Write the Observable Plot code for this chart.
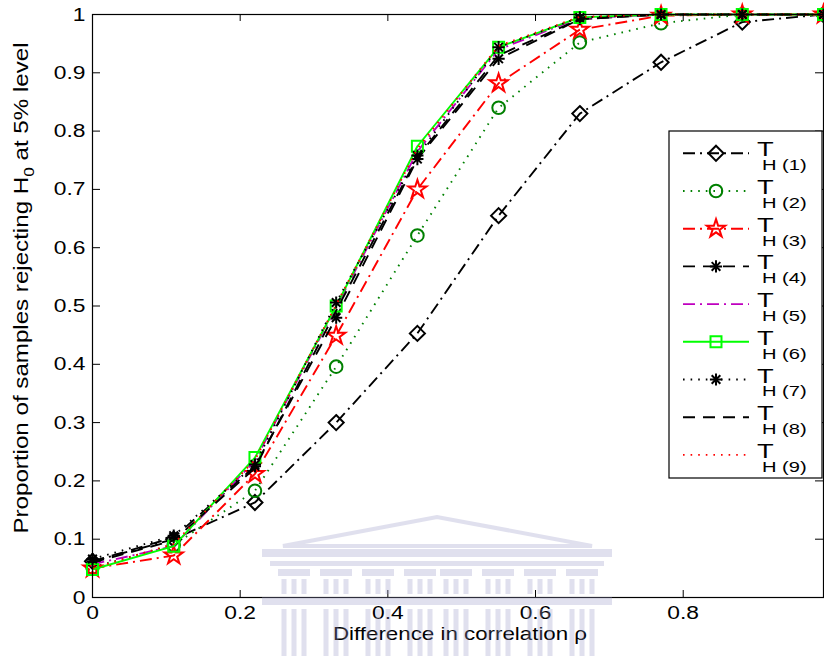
<!DOCTYPE html>
<html>
<head>
<meta charset="utf-8">
<script src="https://cdn.jsdelivr.net/npm/d3@7"></script>
<script src="https://cdn.jsdelivr.net/npm/@observablehq/plot@0.6"></script>
<style>
  body { margin: 0; background: #fff; overflow: hidden; }
  #chart { width: 824px; height: 656px; }
</style>
</head>
<body>
<div id="chart"></div>
<script>
// Difference in correlation (x values shared by every test)
const rho = [0, 0.11, 0.22, 0.33, 0.44, 0.55, 0.66, 0.77, 0.88, 0.99];

// Proportion of samples rejecting H0 at the 5% level, one array per test statistic
const T1 = [0.062, 0.100, 0.163, 0.300, 0.453, 0.655, 0.830, 0.918, 0.987, 1.000];
const T2 = [0.052, 0.090, 0.183, 0.396, 0.621, 0.840, 0.952, 0.985, 1.000, 1.000];
const T3 = [0.050, 0.072, 0.212, 0.449, 0.700, 0.882, 0.974, 0.998, 1.000, 1.000];
const T4 = [0.062, 0.103, 0.225, 0.480, 0.752, 0.924, 0.992, 1.000, 1.000, 1.000];
const T5 = [0.057, 0.088, 0.235, 0.498, 0.765, 0.940, 0.994, 1.000, 1.000, 1.000];
const T6 = [0.048, 0.088, 0.240, 0.500, 0.774, 0.944, 0.995, 1.000, 1.000, 1.000];
const T7 = [0.066, 0.106, 0.228, 0.506, 0.758, 0.944, 0.995, 1.000, 1.000, 1.000];
const T8 = [0.060, 0.098, 0.222, 0.492, 0.755, 0.930, 0.992, 1.000, 1.000, 1.000];
const T9 = [0.050, 0.092, 0.236, 0.502, 0.770, 0.946, 0.996, 1.000, 1.000, 1.000];

const seriesValues = [T1, T2, T3, T4, T5, T6, T7, T8, T9];
const seriesLabels = ["H (1)", "H (2)", "H (3)", "H (4)", "H (5)", "H (6)", "H (7)", "H (8)", "H (9)"];

const xTicks = [0, 0.2, 0.4, 0.6, 0.8];
const yTicks = [0, 0.1, 0.2, 0.3, 0.4, 0.5, 0.6, 0.7, 0.8, 0.9, 1];

// Line and marker styling per series (MATLAB-like line specs)
const DASHDOT = "12,5,2,5", DOTTED = "1.6,6", DASHED = "12,8";
const styles = [
  {color: "#000000", dash: DASHDOT, marker: "diamond"},
  {color: "#008000", dash: DOTTED,  marker: "circle"},
  {color: "#ff0000", dash: DASHDOT, marker: "star"},
  {color: "#000000", dash: DASHED,  marker: "asterisk"},
  {color: "#bf00bf", dash: DASHDOT, marker: null},
  {color: "#00ff00", dash: null,    marker: "square"},
  {color: "#000000", dash: DOTTED,  marker: "asterisk"},
  {color: "#000000", dash: DASHED,  marker: null},
  {color: "#ff0000", dash: DOTTED,  marker: null}
];

// Marker geometry: Plot symbol name and radius (area-equivalent)
const markerSpec = {
  diamond:  [{symbol: "diamond2", r: 6.8}],
  circle:   [{symbol: "circle", r: 6.3}],
  star:     [{symbol: "star", r: 5.7}],
  square:   [{symbol: "square", r: 6.2}],
  asterisk: [{symbol: "plus", r: 4.0}, {symbol: "times", r: 4.0}]
};

const table = seriesValues.map((vals, s) => rho.map((x, i) => ({series: s, rho: x, p: vals[i]})));

const W = 824, H = 656;
const mL = 92, mR = 1, mT = 14, mB = 59;
const innerW = W - mL - mR, innerH = H - mT - mB;

const marks = [];
table.forEach((rows, s) => {
  const st = styles[s];
  marks.push(Plot.line(rows, {
    x: "rho", y: "p", stroke: st.color, strokeWidth: 1.9,
    strokeDasharray: st.dash || undefined, strokeLinejoin: "miter", strokeLinecap: "butt"
  }));
  if (st.marker) {
    for (const m of markerSpec[st.marker]) {
      marks.push(Plot.dot(rows, {
        x: "rho", y: "p", symbol: m.symbol, r: m.r,
        fill: "none", stroke: st.color, strokeWidth: 2
      }));
    }
  }
});

const font = "'Liberation Sans', Arial, sans-serif";

const chart = Plot.plot({
  width: W, height: H,
  marginLeft: mL, marginRight: mR, marginTop: mT, marginBottom: mB,
  x: {domain: [0, 0.99]},
  y: {domain: [0, 1]},
  style: {fontFamily: font, fontSize: "19px", color: "#000", background: "#fff"},
  marks: [
    Plot.axisX({ticks: xTicks, tickSize: 0, tickPadding: 8, label: null, fontSize: 19,
      tickFormat: d => String(d)}),
    Plot.axisY({ticks: yTicks, tickSize: 0, tickPadding: 7, label: null, fontSize: 19,
      tickFormat: d => String(d)}),
    ...marks,
    // inward ticks on all four sides
    Plot.tickX(xTicks, {x: d => d, insetTop: innerH - 7, stroke: "#000", strokeWidth: 1}),
    Plot.tickX(xTicks, {x: d => d, insetBottom: innerH - 7, stroke: "#000", strokeWidth: 1}),
    Plot.tickY(yTicks, {y: d => d, insetRight: innerW - 8, stroke: "#000", strokeWidth: 1}),
    Plot.tickY(yTicks, {y: d => d, insetLeft: innerW - 8, stroke: "#000", strokeWidth: 1}),
    Plot.frame({stroke: "#000", strokeWidth: 1.2})
  ]
});

document.getElementById("chart").appendChild(chart);

const svg = d3.select(chart);

// The figure's lettering is set wide: stretch tick labels horizontally about their anchor
const TICK_STRETCH = 1.2;
svg.selectAll('g[aria-label="x-axis tick label"] text, g[aria-label="y-axis tick label"] text')
  .each(function() {
    const t = d3.select(this);
    const tr = t.attr("transform");
    if (tr) {
      t.attr("transform", `${tr} scale(${TICK_STRETCH},1)`);
    } else {
      const x = +t.attr("x") || 0;
      t.attr("transform", `translate(${x},0) scale(${TICK_STRETCH},1) translate(${-x},0)`);
    }
  });

// Axis titles
svg.append("text")
  .attr("transform", "translate(460,640) scale(1.24,1)")
  .attr("text-anchor", "middle")
  .style("font-family", font).style("font-size", "18px")
  .attr("fill", "#000")
  .text("Difference in correlation ρ");

const yl = svg.append("text")
  .attr("transform", "translate(28,288) rotate(-90) scale(1.15,1)")
  .attr("text-anchor", "middle")
  .style("font-family", font).style("font-size", "21px")
  .attr("fill", "#000");
yl.append("tspan").text("Proportion of samples rejecting H");
yl.append("tspan").attr("dy", 6).style("font-size", "15px").text("0");
yl.append("tspan").attr("dy", -6).text(" at 5% level");

// Legend box
const lg = svg.append("g");
const boxX = 669, boxY = 131, boxW = 153, boxH = 347;
lg.append("rect").attr("x", boxX).attr("y", boxY).attr("width", boxW).attr("height", boxH)
  .attr("fill", "#fff").attr("stroke", "#000").attr("stroke-width", 1.2);

const rowY0 = 153.3, rowStep = 37.7;
const symbolOf = {
  diamond2: d3.symbolDiamond2, circle: d3.symbolCircle, star: d3.symbolStar,
  square: d3.symbolSquare, plus: d3.symbolPlus, times: d3.symbolTimes
};
styles.forEach((st, s) => {
  const y = rowY0 + s * rowStep;
  lg.append("line").attr("x1", 683).attr("x2", 749).attr("y1", y).attr("y2", y)
    .attr("stroke", st.color).attr("stroke-width", 1.9)
    .attr("stroke-dasharray", st.dash || null);
  if (st.marker) {
    for (const m of markerSpec[st.marker]) {
      lg.append("path")
        .attr("d", d3.symbol(symbolOf[m.symbol], Math.PI * m.r * m.r)())
        .attr("transform", `translate(716,${y})`)
        .attr("fill", "none").attr("stroke", st.color).attr("stroke-width", 2);
    }
  }
  // T with its subscript tucked in beneath it
  const t = lg.append("text")
    .attr("transform", `translate(757,${y + 3}) scale(1.3,1)`)
    .attr("text-anchor", "start")
    .style("font-family", font).style("font-size", "21px").attr("fill", "#000");
  t.append("tspan").attr("x", 0).attr("y", 0).text("T");
  t.append("tspan").attr("x", 3.8).attr("y", 14).style("font-size", "15.5px").text(seriesLabels[s]);
});

// Faint building emblem stamped over the lower middle of the page
const wm = svg.append("g")
  .attr("fill", "#9a9ac8").attr("stroke", "#9a9ac8").attr("opacity", 0.3);
wm.append("path")
  .attr("d", "M283,546 L437,517 L592,546 Z")
  .attr("fill", "none").attr("stroke-width", 4);
wm.append("rect").attr("x", 262).attr("y", 549).attr("width", 350).attr("height", 8).attr("stroke", "none");
wm.append("rect").attr("x", 270).attr("y", 561).attr("width", 334).attr("height", 5).attr("stroke", "none");
wm.append("rect").attr("x", 262).attr("y", 597).attr("width", 350).attr("height", 8).attr("stroke", "none");
// columns: each a capital block and three flutes
const colCenters = [294, 336, 378, 420, 456, 498, 540, 582];
colCenters.forEach(cx => {
  wm.append("rect").attr("x", cx - 16).attr("y", 569).attr("width", 32).attr("height", 7).attr("stroke", "none");
  [-10, 0, 10].forEach(dx => {
    wm.append("rect").attr("x", cx + dx - 2.5).attr("y", 579).attr("width", 5).attr("height", 15).attr("stroke", "none");
    wm.append("rect").attr("x", cx + dx - 2.5).attr("y", 609).attr("width", 5).attr("height", 47).attr("stroke", "none");
  });
});
</script>
</body>
</html>
